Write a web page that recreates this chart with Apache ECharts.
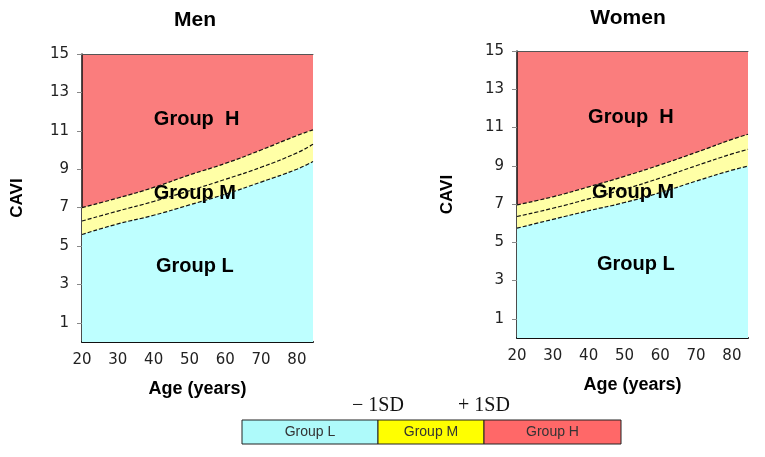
<!DOCTYPE html>
<html><head><meta charset="utf-8">
<script src="https://cdn.jsdelivr.net/npm/echarts@6/dist/echarts.min.js"></script>
<style>html,body{margin:0;padding:0;background:#fff}#c{width:765px;height:457px}</style>
</head><body><div id="c"></div>
<script>
const ages = [20, 30, 40, 50, 60, 70, 80, 84.5];
const menUpper = [7.0, 7.5, 8.05, 8.7, 9.3, 10.0, 10.75, 11.05];
const menMean  = [6.3, 6.82, 7.32, 7.88, 8.47, 9.1, 9.85, 10.3];
const menLower = [5.6, 6.15, 6.6, 7.14, 7.7, 8.33, 9.0, 9.4];
const womenUpper = [6.96, 7.38, 7.9, 8.45, 9.05, 9.7, 10.38, 10.65];
const womenMean  = [6.35, 6.78, 7.27, 7.78, 8.36, 9.0, 9.62, 9.86];
const womenLower = [5.74, 6.2, 6.65, 7.08, 7.6, 8.2, 8.77, 8.98];
const xTicks = [20, 30, 40, 50, 60, 70, 80];
const yTicks = [1, 3, 5, 7, 9, 11, 13, 15];
const panelTitles = ['Men', 'Women'];
const groupNames = ['Group  H', 'Group M', 'Group L'];
const menLabelPos = [[52, 11.6], [51.5, 7.74], [51.5, 3.92]];
const womenLabelPos = [[51.8, 11.55], [52.4, 7.6], [53.2, 3.84]];
const legendNames = ['Group L', 'Group M', 'Group H'];
const sdLabels = ['\u2212 1SD', '+ 1SD'];

const PINK = '#FA7D7D', CYAN = '#BEFFFF', YEL = '#FFFFA6';
const chart = echarts.init(document.getElementById('c'));
const zip = (xs, ys) => xs.map((x, i) => [x, ys[i]]);

const grids = [
  {left: 82, right: 452, top: 54, bottom: 115},
  {left: 517, right: 17, top: 51, bottom: 119}
];
const xAxes = [], yAxes = [], series = [];
const panels = [[menUpper, menMean, menLower, menLabelPos], [womenUpper, womenMean, womenLower, womenLabelPos]];
panels.forEach((p, gi) => {
  xAxes.push({
    type: 'value', gridIndex: gi, min: 20, max: 84.5,
    name: 'Age (years)', nameLocation: 'middle', nameGap: 38,
    nameTextStyle: {fontFamily: 'Liberation Sans', fontWeight: 'bold', fontSize: 18, color: '#000'},
    axisLine: {show: true, lineStyle: {color: '#111', width: 2}},
    axisTick: {show: true, inside: true, length: 5, customValues: xTicks, lineStyle: {color: '#444'}},
    axisLabel: {customValues: xTicks, fontFamily: 'DejaVu Sans', fontSize: 15, color: '#222', margin: 11},
    splitLine: {show: false}
  });
  xAxes.push({
    type: 'value', gridIndex: gi, min: 20, max: 84.5, position: 'top',
    axisLine: {show: true, lineStyle: {color: '#555', width: 1}},
    axisTick: {show: false}, axisLabel: {show: false}, splitLine: {show: false}
  });
  yAxes.push({
    type: 'value', gridIndex: gi, min: 0, max: 15,
    name: 'CAVI', nameLocation: 'middle', nameGap: gi === 0 ? 56 : 61, nameRotate: 90,
    nameTextStyle: {fontFamily: 'Liberation Sans', fontWeight: 'bold', fontSize: 17, color: '#000'},
    axisLine: {show: true, lineStyle: {color: '#111', width: 1.5}},
    axisTick: {show: true, length: 5, customValues: yTicks, lineStyle: {color: '#888'}},
    axisLabel: {customValues: yTicks, fontFamily: 'DejaVu Sans', fontSize: 15, color: '#222', margin: 13},
    splitLine: {show: false}
  });
  const xi = gi * 2, yi = gi;
  const [up, mean, low, lp] = p;
  series.push({
    type: 'line', xAxisIndex: xi, yAxisIndex: yi, data: zip(ages, up), smooth: true,
    symbol: 'none', lineStyle: {width: 0}, areaStyle: {color: YEL, opacity: 1}, z: 1, silent: true
  });
  series.push({
    type: 'line', xAxisIndex: xi, yAxisIndex: yi, data: zip(ages, low), smooth: true,
    symbol: 'none', lineStyle: {width: 0}, areaStyle: {color: CYAN, opacity: 1}, z: 2, silent: true
  });
  series.push({
    type: 'scatter', xAxisIndex: xi, yAxisIndex: yi, symbolSize: 1, z: 3, silent: true,
    itemStyle: {color: 'rgba(0,0,0,0)'},
    data: lp.map((c, i) => ({value: c, label: {show: true, formatter: groupNames[i], position: 'inside',
      fontFamily: 'Liberation Sans', fontWeight: 'bold', fontSize: 20, color: '#000', opacity: 1}}))
  });
  [up, mean, low].forEach(arr => series.push({
    type: 'line', xAxisIndex: xi, yAxisIndex: yi, data: zip(ages, arr), smooth: true,
    symbol: 'none', z: 5, silent: true,
    lineStyle: {color: '#111', width: 1.2, type: [4, 2]}
  }));
});

const lx = 242, lw = [136, 106, 137], ly = 420, lh = 24;
const lcols = ['#AEFAFA', '#FFFF00', '#FF6868'];
const graphic = [];
let cx = lx;
legendNames.forEach((n, i) => {
  graphic.push({type: 'rect', shape: {x: cx, y: ly, width: lw[i], height: lh},
    style: {fill: lcols[i], stroke: '#222', lineWidth: 1}});
  graphic.push({type: 'text', x: cx + lw[i] / 2, y: ly + lh / 2,
    style: {text: n, fontFamily: 'Liberation Sans', fontSize: 14, fill: '#333', align: 'center', verticalAlign: 'middle'}});
  cx += lw[i];
});
graphic.push({type: 'text', x: lx + lw[0], y: 406, style: {text: sdLabels[0], fontFamily: 'Liberation Serif', fontSize: 20, fill: '#111', align: 'center', verticalAlign: 'middle'}});
graphic.push({type: 'text', x: lx + lw[0] + lw[1], y: 406, style: {text: sdLabels[1], fontFamily: 'Liberation Serif', fontSize: 20, fill: '#111', align: 'center', verticalAlign: 'middle'}});

chart.setOption({
  animation: false,
  title: [
    {text: panelTitles[0], left: 190, top: 5, textAlign: 'center', textStyle: {fontFamily: 'Liberation Sans', fontWeight: 'bold', fontSize: 21, color: '#000'}},
    {text: panelTitles[1], left: 623, top: 3, textAlign: 'center', textStyle: {fontFamily: 'Liberation Sans', fontWeight: 'bold', fontSize: 21, color: '#000'}}
  ],
  grid: grids.map(g => Object.assign({show: true, backgroundColor: PINK, borderWidth: 0}, g)),
  xAxis: xAxes, yAxis: yAxes, series, graphic
});
</script></body></html>
